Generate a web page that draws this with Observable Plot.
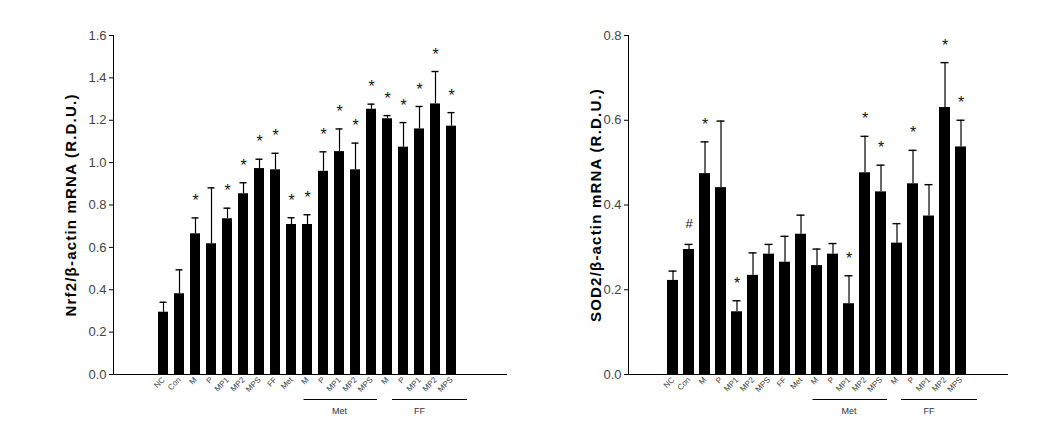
<!DOCTYPE html>
<html><head><meta charset="utf-8">
<script src="https://cdn.jsdelivr.net/npm/d3@7"></script>
<script src="https://cdn.jsdelivr.net/npm/@observablehq/plot@0.6"></script>
<style>
body{margin:0;background:#fff;}
#wrap{display:flex;width:1037px;height:435px;overflow:hidden;}
</style></head><body><div id="wrap"></div>
<script>
const categories = ["NC","Con","M","P","MP1","MP2","MPS","FF","Met","M","P","MP1","MP2","MPS","M","P","MP1","MP2","MPS"];
const groupNames = ["Met","FF"];
const groupFirst = [9,14];
const groupLast = [13,18];

const nrf2Mean = [0.294,0.381,0.664,0.617,0.735,0.853,0.972,0.966,0.708,0.708,0.959,1.052,0.966,1.252,1.207,1.073,1.159,1.277,1.172];
const nrf2Sem  = [0.047,0.113,0.075,0.264,0.050,0.052,0.044,0.078,0.032,0.046,0.092,0.107,0.126,0.024,0.015,0.116,0.106,0.153,0.064];
const nrf2Sig  = ["","","*","","*","*","*","*","*","*","*","*","*","*","*","*","*","*","*"];
const nrf2Ticks = [0,0.2,0.4,0.6,0.8,1.0,1.2,1.4,1.6];

const sod2Mean = [0.222,0.295,0.474,0.441,0.148,0.234,0.284,0.265,0.331,0.257,0.284,0.167,0.476,0.431,0.310,0.450,0.374,0.630,0.537];
const sod2Sem  = [0.022,0.012,0.075,0.157,0.026,0.053,0.023,0.061,0.045,0.039,0.025,0.066,0.086,0.063,0.046,0.079,0.074,0.106,0.063];
const sod2Sig  = ["","#","*","","*","","","","","","","*","*","*","","*","","*","*"];
const sod2Ticks = [0,0.2,0.4,0.6,0.8];

const FONT = "Arial, 'Liberation Sans', sans-serif";

function panel({mean, sem, sig, ticks, label, width, marginLeft, marginRight, pI, pO, align, labelOffset}) {
  const data = categories.map((c, i) => ({i, c, v: mean[i], hi: mean[i] + sem[i], s: sig[i]}));
  const groups = groupNames.map((g, k) => ({g, a: groupFirst[k], b: groupLast[k], m: Math.round((groupFirst[k] + groupLast[k]) / 2)}));
  const svg = Plot.plot({
    width, height: 435, marginLeft, marginRight, marginTop: 35, marginBottom: 61,
    style: {background: "white", fontFamily: FONT, color: "#000", overflow: "visible"},
    x: {type: "band", domain: d3.range(categories.length), paddingInner: pI, paddingOuter: pO, align},
    y: {domain: [0, ticks[ticks.length - 1]]},
    marks: [
      Plot.axisY({ticks, tickFormat: d3.format(".1f"), tickSize: 4, tickPadding: 3, fontSize: 13, fill: "#444", stroke: "#000", label: null}),
      Plot.axisY({ticks: [], tickSize: 0, label, labelAnchor: "center", labelOffset, labelArrow: "none", fontSize: 15, fontWeight: "bold"}),
      Plot.axisX({tickSize: 0, tickPadding: 4, tickRotate: -45, tickFormat: i => categories[i], fontSize: 8, fill: "#444", label: null}),
      Plot.frame({anchor: "left"}),
      Plot.ruleY([0]),
      Plot.barY(data, {x: "i", y: "v", fill: "black"}),
      Plot.ruleX(data, {x: "i", y1: "v", y2: "hi", stroke: "black", strokeWidth: 1.2}),
      Plot.tickY(data, {x: "i", y: "hi", stroke: "black", strokeWidth: 1.4, insetLeft: 1.5, insetRight: 1.5}),
      Plot.text(data.filter(d => d.s === "*"), {x: "i", y: "hi", text: "s", dy: -17, fontSize: 16, fill: "#111"}),
      Plot.text(data.filter(d => d.s === "#"), {x: "i", y: "hi", text: "s", dy: -21, fontSize: 13, fill: "#111"}),
      Plot.ruleY(groups.slice(0, 1), {x1: "a", x2: "b", y: () => 0, dy: 25, stroke: "black", strokeWidth: 1, insetLeft: 1.5, insetRight: -1}),
      Plot.ruleY(groups.slice(1), {x1: "a", x2: "b", y: () => 0, dy: 25, stroke: "black", strokeWidth: 1, insetLeft: 10, insetRight: -11}),
      Plot.text(groups, {x: "m", y: () => 0, text: "g", dy: 37, fontSize: 9, fill: "#333"})
    ]
  });
  d3.select(svg).selectAll("text").filter(function() { return this.textContent === label; })
    .attr("letter-spacing", "1.2px");
  return svg;
}

const wrap = document.getElementById("wrap");
wrap.appendChild(panel({mean: nrf2Mean, sem: nrf2Sem, sig: nrf2Sig, ticks: nrf2Ticks,
  label: "Nrf2/β-actin mRNA (R.D.U.)", width: 518, marginLeft: 113, marginRight: 11,
  pI: 0.36, pO: 2.62, align: 0.47, labelOffset: 48}));
wrap.appendChild(panel({mean: sod2Mean, sem: sod2Sem, sig: sod2Sig, ticks: sod2Ticks,
  label: "SOD2/β-actin mRNA (R.D.U.)", width: 519, marginLeft: 110, marginRight: 29,
  pI: 0.34, pO: 2.54, align: 0.485, labelOffset: 38}));
</script></body></html>
